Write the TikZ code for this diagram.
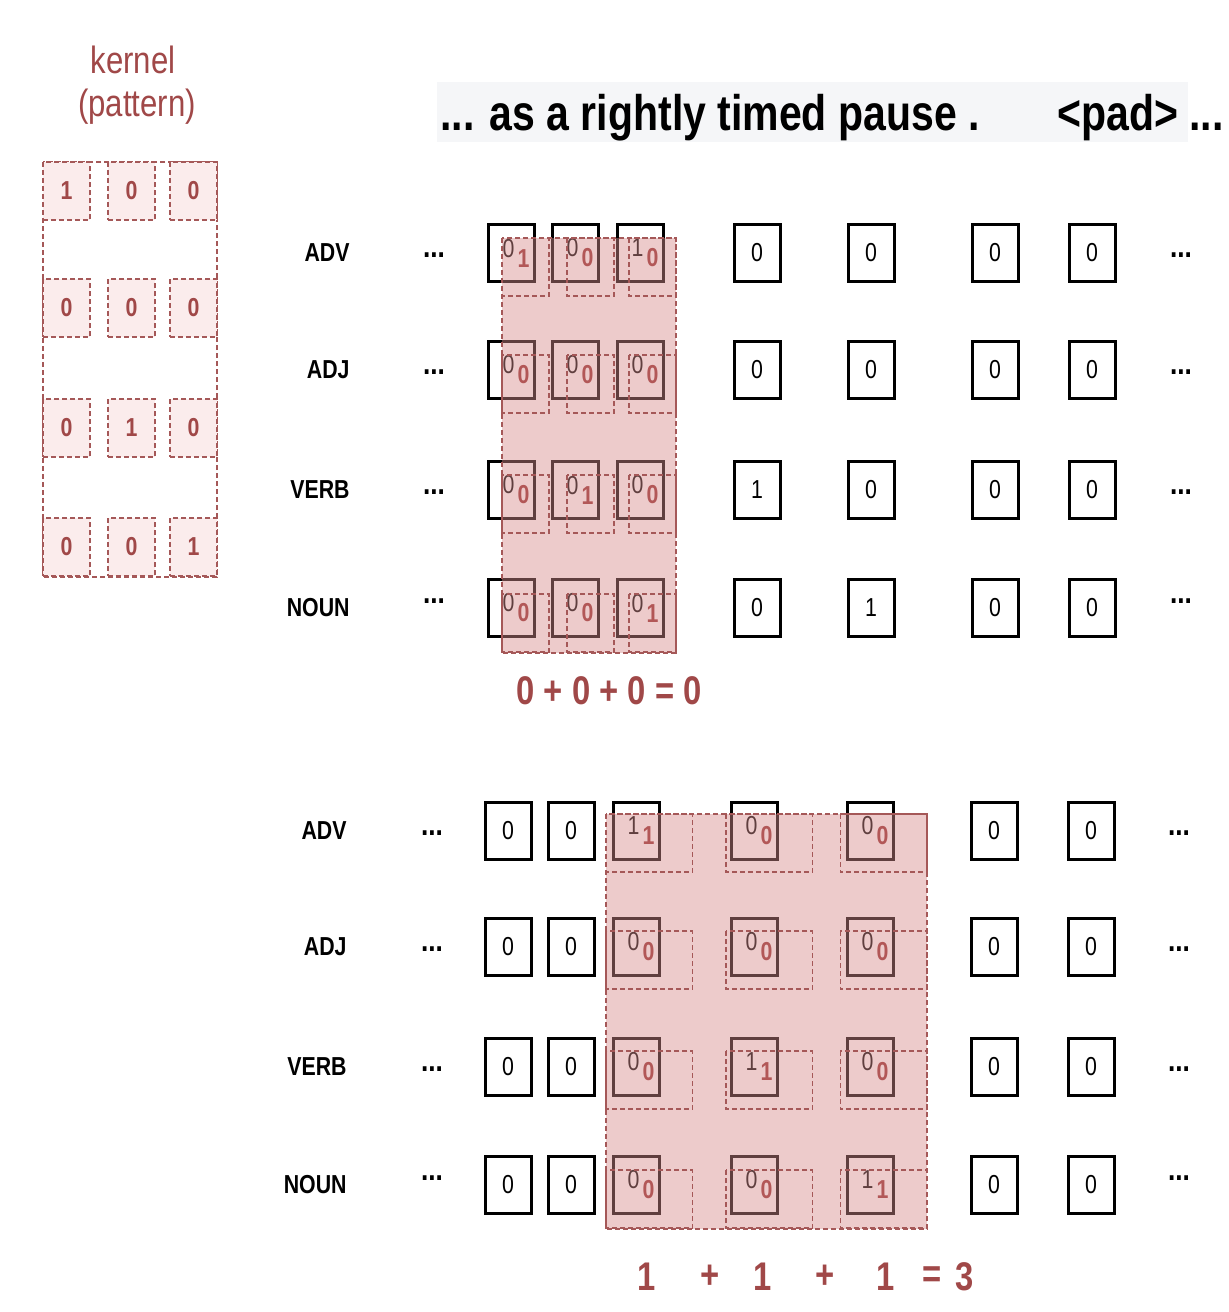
\documentclass[tikz,border=0pt]{standalone}
\usepackage{fontspec}
\setmainfont{Liberation Sans}
\newfontfamily\narrowsans[FakeStretch=0.82]{Liberation Sans}
\usetikzlibrary{arrows.meta}

\definecolor{kred}{RGB}{160,72,72}
\definecolor{kdark}{RGB}{150,45,45}
\definecolor{kline}{RGB}{165,88,88}
\definecolor{kpink}{RGB}{214,140,140}
\definecolor{klight}{RGB}{251,236,236}
\definecolor{hdrgray}{RGB}{245,246,248}

\tikzset{
	cellbox/.style={draw=black, line width=1.5pt, minimum width=23pt, minimum height=28.5pt,
		inner sep=0pt, font=\narrowsans\fontsize{13}{13}\selectfont},
	postag/.style={anchor=east, inner sep=0pt, font=\narrowsans\bfseries\fontsize{13}{13}\selectfont},
	ellip/.style={anchor=base, font=\narrowsans\bfseries\fontsize{16}{16}\selectfont},
	kdash/.style={draw=kline, line width=0.6pt, dash pattern=on 2.5pt off 1.5pt},
	kcell/.style={kdash, fill=klight, minimum width=23.5pt, minimum height=29pt, inner sep=0pt,
		text=kred, font=\narrowsans\bfseries\fontsize{13}{13}\selectfont},
	sumtext/.style={text=kred, font=\narrowsans\bfseries\fontsize{20}{20}\selectfont},
}

\newcommand{\kv}[1]{% kernel value, set low and red
	\hspace{1.5pt}\raisebox{-5pt}{\textcolor{kdark}{\bfseries\fontsize{13}{13}\selectfont #1}}}
\newcommand{\kval}[2]{% cell value, kernel value
	\hspace*{5pt}#1\kv{#2}}
\newcommand{\drawkernel}[3]{% x, y, x-stretch
	\begin{scope}[shift={(#1,#2)}, xscale=#3]
		\fill[kpink, fill opacity=0.45] (0,0) rectangle (174,415);
		\draw[kdash] (0,0) rectangle (174,415);
		\foreach \cx in {0,65,127}
			\foreach \cy in {0,117,237,356}
				\draw[kdash] (\cx,\cy) rectangle ++(47,58);
	\end{scope}
}

\def\topx{{511,575,640,757,871,995,1092}}
\def\botx{{508,571,636,754,870,994,1091}}

\begin{document}
\begin{tikzpicture}[x=0.5pt, y=-0.5pt]
\useasboundingbox (0,0) rectangle (1228,1312);

% kernel on the left
\node[text=kred, font=\narrowsans\fontsize{19}{19}\selectfont] (ktitle) at (133,60) {kernel};
\node[text=kred, font=\narrowsans\fontsize{19}{19}\selectfont] (kpattern) at (137,107) {(pattern)};
\draw[kdash] (43,162) rectangle (217,577);
\foreach \kr/\ky [count=\r] in {{1,0,0}/191, {0,0,0}/308, {0,1,0}/428, {0,0,1}/547}
	\foreach \k [count=\c] in \kr
	{
		\pgfmathsetmacro{\kx}{{66.5,131.5,193.5}[\c-1]}
		\node[kcell] (k-\r-\c) at (\kx,\ky) {\k};
	}

% sentence
\fill[hdrgray] (437,82) rectangle (1188,142);
\node[anchor=base west, inner sep=0pt, font=\narrowsans\bfseries\fontsize{25}{25}\selectfont]
	(sent) at (440,130) {... as a rightly timed pause .};
\node[anchor=base west, inner sep=0pt, font=\narrowsans\bfseries\fontsize{25}{25}\selectfont]
	(pad) at (1057,130) {<pad> ...};

% upper grid, kernel on the first three words
\foreach \tagname/\y/\dy/\vals [count=\r] in {
	ADV/253/4/{\kval{0}{1},\kval{0}{0},\kval{1}{0},0,0,0,0},
	ADJ/370/4/{\kval{0}{0},\kval{0}{0},\kval{0}{0},0,0,0,0},
	VERB/490/4/{\kval{0}{0},\kval{0}{1},\kval{0}{0},1,0,0,0},
	NOUN/608/-5/{\kval{0}{0},\kval{0}{0},\kval{0}{1},0,1,0,0}}
{
	\node[postag] (tl-\r) at (350,\y) {\tagname};
	\node[ellip] (tdl-\r) at (434,\y+\dy) {...};
	\node[ellip] (tdr-\r) at (1181,\y+\dy) {...};
	\foreach \v [count=\c] in \vals
	{
		\pgfmathsetmacro{\x}{\topx[\c-1]}
		\node[cellbox] (t-\r-\c) at (\x,\y) {\v};
	}
}
\drawkernel{502}{238}{1};
\node[sumtext] (tsum) at (609,691) {0 + 0 + 0 = 0};

% lower grid, kernel stretched over three words
\foreach \tagname/\y/\dy/\vals [count=\r] in {
	ADV/831/4/{0,0,\kval{1}{1},\kval{0}{0},\kval{0}{0},0,0},
	ADJ/947/4/{0,0,\kval{0}{0},\kval{0}{0},\kval{0}{0},0,0},
	VERB/1067/4/{0,0,\kval{0}{0},\kval{1}{1},\kval{0}{0},0,0},
	NOUN/1185/-5/{0,0,\kval{0}{0},\kval{0}{0},\kval{1}{1},0,0}}
{
	\node[postag] (bl-\r) at (347,\y) {\tagname};
	\node[ellip] (bdl-\r) at (432,\y+\dy) {...};
	\node[ellip] (bdr-\r) at (1179,\y+\dy) {...};
	\foreach \v [count=\c] in \vals
	{
		\pgfmathsetmacro{\x}{\botx[\c-1]}
		\node[cellbox] (b-\r-\c) at (\x,\y) {\v};
	}
}
\drawkernel{606}{814}{1.845};
\foreach \s/\x [count=\i] in {1/647, +/710, 1/763, +/825, 1/886, =/932, 3/965}
	\node[sumtext] (bsum-\i) at (\x,1277) {\s};

\end{tikzpicture}
\end{document}
